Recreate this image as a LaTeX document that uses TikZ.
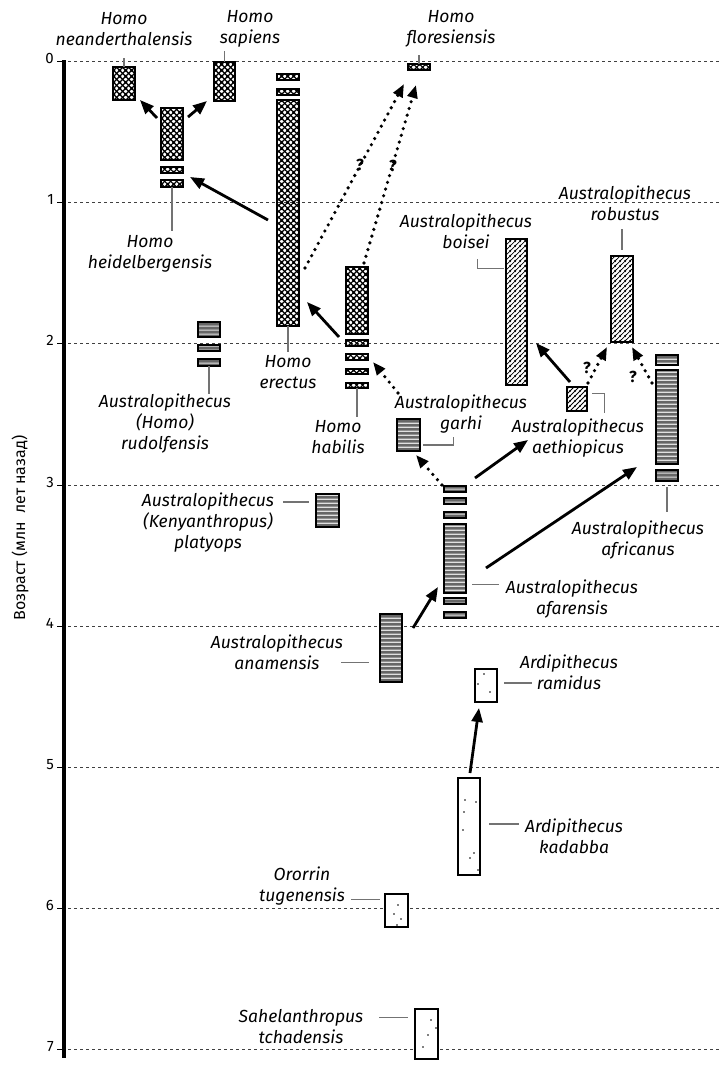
\documentclass[tikz,border=0pt]{standalone}
\usepackage{fontspec}
\setmainfont{Fira Sans}
\usetikzlibrary{arrows.meta,patterns.meta,calc}

\tikzdeclarepattern{
  name=xhatch, type=uncolored,
  bounding box={(0,0) and (6pt,6pt)}, tile size={(6pt,6pt)},
  code={
    \draw[line width=1.3pt] (-1pt,-1pt) -- (7pt,7pt) (-1pt,7pt) -- (7pt,-1pt)
      (-1pt,5pt) -- (1pt,7pt) (5pt,-1pt) -- (7pt,1pt)
      (-1pt,1pt) -- (1pt,-1pt) (5pt,7pt) -- (7pt,5pt);
  }
}
\tikzdeclarepattern{
  name=hstripe, type=uncolored,
  bounding box={(0,0) and (4pt,4.2pt)}, tile size={(4pt,4.2pt)},
  code={\draw[line width=1.3pt] (-1pt,2.1pt) -- (5pt,2.1pt);}
}
\tikzdeclarepattern{
  name=dhatch, type=uncolored,
  bounding box={(0,0) and (5pt,5pt)}, tile size={(5pt,5pt)},
  code={\draw[line width=0.9pt] (-1pt,-1pt) -- (6pt,6pt) (-1pt,4pt) -- (1pt,6pt) (4pt,-1pt) -- (6pt,1pt);}
}

\newcommand\mybox[6]{\node[#1,anchor=north west,minimum width={(#5-#3-1.8)*1pt},minimum height={(#6-#4-1.8)*1pt}] (#2) at ({#3+0.9},{#4+0.9}) {};}

\begin{document}
\begin{tikzpicture}[x=1pt,y=-1pt,
  grid/.style={black!75,line width=0.9pt,dash pattern=on 2.5pt off 3.5pt},
  bx/.style={draw,line width=1.8pt,inner sep=0pt,outer sep=0pt,rectangle},
  homo/.style={bx,pattern=xhatch,pattern color=black},
  aus/.style={bx,preaction={fill=black!60},pattern=hstripe,pattern color=black!12},
  rob/.style={bx,fill=white,postaction={pattern=dhatch,pattern color=black}},
  early/.style={bx,fill=white},
  lab/.style={font=\itshape\fontsize{17.5}{21}\selectfont,align=center,inner sep=0pt},
  num/.style={font=\fontsize{15}{18}\selectfont,inner sep=0pt,anchor=east},
  qm/.style={font=\bfseries\fontsize{16}{18}\selectfont,inner sep=0pt},
  lead/.style={draw=black!55,line width=1.1pt},
  sol/.style={line width=2.8pt,-{Triangle[length=14pt,width=11pt]}},
  dotarr/.style={line width=3.6pt,dash pattern=on 0pt off 7pt,line cap=round,-{Triangle[length=13pt,width=10pt]}},
  spot/.style={fill=black}
]
\useasboundingbox[fill=white] (0,0) rectangle (721,1066);

% grid and axis
\foreach \i in {0,...,7}{
  \pgfmathsetmacro\yy{61.5+141.2*\i}
  \draw[grid] (68,\yy) -- (721,\yy);
  \draw[line width=1pt] (57,\yy) -- (64,\yy);
  \node[num] (n\i) at (54,\yy-3) {\i};
}
\draw[line width=4.5pt] (64,60) -- (64,1058);
\node[rotate=90,font=\fontsize{16}{18}\selectfont,inner sep=0pt] (ylab) at (20,528) {Возраст (млн\ \ лет назад)};

% Homo
\mybox{homo}{nean}{112}{66}{136}{101}
\mybox{homo}{sap}{213}{61}{236}{102}
\mybox{homo}{heid1}{160}{107}{184}{161}
\mybox{homo}{heid2}{160}{166}{184}{174}
\mybox{homo}{heid3}{160}{179}{184}{188}
\mybox{homo}{erec1}{276}{73}{300}{81}
\mybox{homo}{erec2}{276}{88}{300}{96}
\mybox{homo}{erec}{276}{99}{300}{327}
\mybox{homo}{flor}{407}{63}{431}{71}
\mybox{homo}{hab}{345}{266}{369}{335}
\mybox{homo}{hab2}{345}{339}{369}{347}
\mybox{homo}{hab3}{345}{353}{369}{361}
\mybox{homo}{hab4}{345}{368}{369}{375}
\mybox{homo}{hab5}{345}{382}{369}{389}

% gracile australopithecines
\mybox{aus}{rud1}{197}{321}{221}{338}
\mybox{aus}{rud2}{197}{344}{221}{352}
\mybox{aus}{rud3}{197}{358}{221}{367}
\mybox{aus}{plat}{315}{493}{340}{528}
\mybox{aus}{garhi}{396}{418}{421}{452}
\mybox{aus}{afar1}{443}{485}{467}{493}
\mybox{aus}{afar2}{443}{497}{467}{505}
\mybox{aus}{afar3}{443}{511}{467}{519}
\mybox{aus}{afar4}{443}{523}{467}{594}
\mybox{aus}{afar5}{443}{597}{467}{605}
\mybox{aus}{afar6}{443}{611}{467}{619}
\mybox{aus}{anam}{379}{613}{403}{683}
\mybox{aus}{afr1}{655}{354}{679}{366}
\mybox{aus}{afr2}{655}{369}{679}{465}
\mybox{aus}{afr3}{655}{469}{679}{482}

% robust
\mybox{rob}{boi}{505}{238}{528}{386}
\mybox{rob}{robu}{610}{255}{634}{343}
\mybox{rob}{aeth}{566}{386}{588}{412}

% early hominins
\mybox{early}{ram}{474}{668}{498}{703}
\mybox{early}{kad}{457}{777}{481}{876}
\mybox{early}{oro}{384}{893}{409}{928}
\mybox{early}{sah}{414}{1008}{439}{1060}
\foreach \p in {(484,674),(490,692),(478,684),(465,800),(476,802),(463,830),(470,858),(474,853),(478,870),(464,812),(398,905),(394,914),(401,919),(397,925),(431,1020),(428,1035),(423,1047),(436,1028)}
  \fill[spot] \p circle (0.8);

% labels
\node[lab] (Lnean) at (124,29) {Homo\\neanderthalensis};
\node[lab] (Lsap) at (250,29) {Homo\\sapiens};
\node[lab] (Lflor) at (451,29) {Homo\\floresiensis};
\node[lab] (Lheid) at (150,254) {Homo\\heidelbergensis};
\node[lab] (Lerec) at (288,372) {Homo\\erectus};
\node[lab] (Lhab) at (338,437) {Homo\\habilis};
\node[lab] (Lrud) at (165,424) {Australopithecus\\(Homo)\\rudolfensis};
\node[lab] (Lplat) at (208,523) {Australopithecus\\(Kenyanthropus)\\platyops};
\node[lab] (Lgar) at (461,414) {Australopithecus\\garhi};
\node[lab] (Lboi) at (466,231) {Australopithecus\\boisei};
\node[lab] (Lrob) at (625,203) {Australopithecus\\robustus};
\node[lab] (Laeth) at (578,438) {Australopithecus\\aethiopicus};
\node[lab] (Lafr) at (638,540) {Australopithecus\\africanus};
\node[lab] (Lafar) at (572,599) {Australopithecus\\afarensis};
\node[lab] (Lanam) at (277,652) {Australopithecus\\anamensis};
\node[lab] (Lram) at (569,672) {Ardipithecus\\ramidus};
\node[lab] (Lkad) at (574,836) {Ardipithecus\\kadabba};
\node[lab] (Loro) at (302,886) {Ororrin\\tugenensis};
\node[lab] (Lsah) at (301,1027) {Sahelanthropus\\tchadensis};

% leader lines
\draw[lead] (nean.north) -- ++(0,-9);
\draw[lead] (sap.north) -- ++(0,-11);
\draw[lead] (flor.north) -- ++(0,-9);
\draw[lead] (heid3.south) -- ++(0,44);
\draw[lead] (erec.south) -- ++(0,26);
\draw[lead] (hab5.south) -- ++(0,29);
\draw[lead] (rud3.south) -- ++(0,28);
\draw[lead] ($(plat.west)+(-7,-8.5)$) -- ++(-26,0);
\draw[lead] ($(garhi.east)+(3,10)$) -- ++(30,0) -- ++(0,-8);
\draw[lead] ($(boi.north west)+(-2,30)$) -- ++(-26,0) -- ++(0,-10);
\draw[lead] ($(robu.north)+(0,-6)$) -- ++(0,-21);
\draw[lead] ($(aeth.north east)+(5,7)$) -- ++(12,0) -- ++(0,19);
\draw[lead] ($(afr3.south)+(0,6)$) -- ++(0,25);
\draw[lead] ($(afar4.south east)+(6,-9)$) -- ++(27,0);
\draw[lead] ($(anam.south west)+(-11,-20)$) -- ++(-28,0);
\draw[lead] ($(ram.east)+(7,-2.5)$) -- ++(28,0);
\draw[lead] ($(kad.east)+(9,-2.5)$) -- ++(30,0);
\draw[lead] ($(oro.north west)+(-5,6)$) -- ++(-29,0);
\draw[lead] ($(sah.north west)+(-7,9)$) -- ++(-29,0);

% arrow end points
\coordinate (a1s) at (157,118); \coordinate (a1e) at (140,100);
\coordinate (a2s) at (188,117); \coordinate (a2e) at (207,101);
\coordinate (a3s) at (268,220); \coordinate (a3e) at (190,177);
\coordinate (a4s) at (339,337); \coordinate (a4e) at (307,302);
\coordinate (a5s) at (475,478); \coordinate (a5e) at (528,440);
\coordinate (a6s) at (486,568); \coordinate (a6e) at (637,467);
\coordinate (a7s) at (413,628); \coordinate (a7e) at (438,587);
\coordinate (a8s) at (470,773); \coordinate (a8e) at (479,708);
\coordinate (a9s) at (570,382); \coordinate (a9e) at (536,343);
\coordinate (d1s) at (305,268); \coordinate (d1e) at (404,84);
\coordinate (d2s) at (364,263); \coordinate (d2e) at (416,85);
\coordinate (d3s) at (442,485); \coordinate (d3e) at (416,455);
\coordinate (d4s) at (398,393); \coordinate (d4e) at (373,362);
\coordinate (d5s) at (588,383); \coordinate (d5e) at (607,347);
\coordinate (d6s) at (652,383); \coordinate (d6e) at (632,347);

\foreach \a in {a1,a2,a3,a4,a5,a6,a7,a8,a9}
  \draw[sol] (\a s) -- (\a e);
\foreach \a in {d1,d2,d3,d4,d5,d6}
  \draw[dotarr] (\a s) -- (\a e);

\node[qm] (q1) at (360,165) {?};
\node[qm] (q2) at (393,166) {?};
\node[qm] (q3) at (587,368) {?};
\node[qm] (q4) at (633,377) {?};
\end{tikzpicture}
\end{document}
